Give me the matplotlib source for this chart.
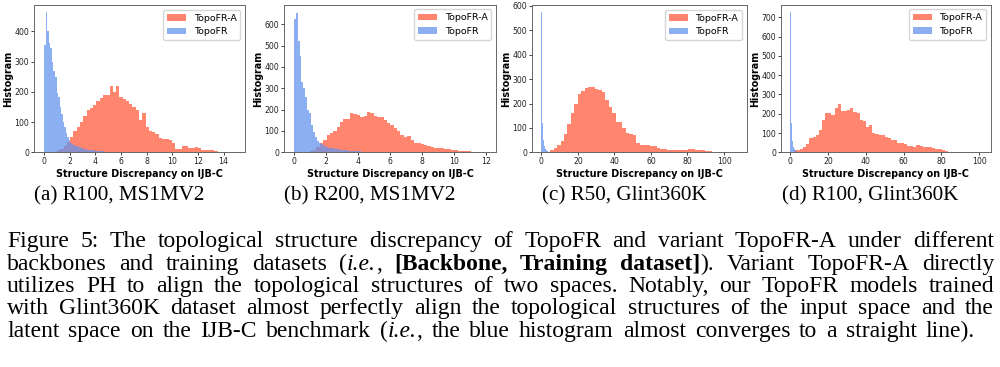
import numpy as np
import matplotlib.pyplot as plt

# -------------------------------
# Histogram counts
# (50 equal bins per series unless noted)
# -------------------------------
A_RED_RANGE = (1.0, 13.8)
A_RED = [8, 12, 20, 35, 50, 70, 85, 100, 120, 140, 148, 155, 168, 178, 190, 188,
         218, 200, 218, 184, 175, 170, 160, 150, 140, 108, 131, 82, 72, 66, 60, 48,
         45, 44, 40, 32, 12, 10, 20, 22, 15, 13, 18, 14, 8, 7, 8, 6, 4, 2]
A_BLUE_RANGE = (0.0, 6.0)
A_BLUE = [355, 465, 400, 360, 345, 300, 270, 250, 195, 182, 150, 125, 100, 85, 65, 50,
          40, 32, 28, 25, 22, 20, 18, 16, 14, 12, 12, 10, 9, 8, 8, 7,
          6, 5, 5, 4, 4, 3, 3, 2, 2, 2, 1, 1, 1, 1, 1, 0, 0, 1]

B_RED_RANGE = (1.0, 11.5)
B_RED = [5, 10, 25, 45, 60, 80, 90, 100, 120, 143, 155, 158, 183, 180, 175, 164,
         168, 190, 183, 170, 166, 164, 152, 136, 128, 112, 100, 81, 73, 76, 58, 45,
         42, 40, 34, 30, 26, 20, 18, 18, 17, 16, 12, 11, 8, 7, 5, 4, 2, 1]
B_BLUE_RANGE = (0.0, 6.0)
B_BLUE = [625, 655, 520, 450, 330, 300, 260, 200, 185, 130, 95, 70, 55, 45, 38, 32,
          28, 25, 22, 20, 18, 16, 15, 14, 12, 11, 10, 9, 8, 7, 6, 6,
          5, 4, 4, 3, 3, 3, 2, 2, 2, 2, 1, 1, 1, 1, 1, 1, 0, 1]

C_RED_RANGE = (3.0, 97.0)
C_RED = [3, 8, 18, 30, 45, 75, 115, 160, 200, 240, 250, 262, 266, 268, 258, 256,
         248, 215, 185, 160, 124, 126, 100, 80, 74, 70, 40, 30, 28, 28, 26, 24,
         18, 14, 12, 10, 9, 8, 8, 9, 10, 14, 12, 9, 8, 9, 6, 4, 2, 1]
C_BLUE_RANGE = (0.0, 6.0)  # 12 bins
C_BLUE = [575, 120, 50, 25, 14, 8, 5, 3, 2, 1, 1, 1]

D_RED_RANGE = (2.0, 85.0)
D_RED = [10, 12, 15, 28, 45, 75, 80, 92, 115, 168, 206, 202, 194, 228, 249, 216,
         214, 220, 228, 211, 202, 165, 160, 133, 142, 100, 96, 90, 88, 78, 76, 64,
         62, 50, 47, 45, 35, 33, 29, 36, 35, 30, 28, 25, 24, 18, 16, 12, 9, 4]
D_BLUE_RANGE = (0.0, 6.0)  # 12 bins
D_BLUE = [728, 150, 60, 30, 16, 9, 5, 3, 2, 1, 1, 1]

SUBCAPTIONS = ["(a) R100, MS1MV2", "(b) R200, MS1MV2",
               "(c) R50, Glint360K", "(d) R100, Glint360K"]

# caption lines: (text, style) with n = normal, i = italic, b = bold
CAPTION = [
    [("Figure 5: The topological structure discrepancy of TopoFR and variant TopoFR-A under different", "n")],
    [("backbones and training datasets (", "n"), ("i.e.", "i"), (", ", "n"),
     ("[Backbone, Training dataset]", "b"), ("). Variant TopoFR-A directly", "n")],
    [("utilizes PH to align the topological structures of two spaces. Notably, our TopoFR models trained", "n")],
    [("with Glint360K dataset almost perfectly align the topological structures of the input space and the", "n")],
    [("latent space on the IJB-C benchmark (", "n"), ("i.e.", "i"),
     (", the blue histogram almost converges to a straight line).", "n")],
]

# -------------------------------
# Layout (pixels on a 1000x367 canvas)
# -------------------------------
W, H = 1000, 367
AX_BOXES = [(34, 5, 245, 152.3), (284, 4.7, 496, 152.3),
            (532, 5, 746.7, 152.3), (780.7, 4.7, 990.7, 152.3)]
XLIMS = [(-0.8, 15.67), (-0.61, 12.64), (-5.1, 112.4), (-4.9, 106.0)]
YLIMS = [(0, 487), (0, 692), (0, 604), (0, 765)]
XTICKS = [np.arange(0, 15, 2), np.arange(0, 13, 2), np.arange(0, 101, 20), np.arange(0, 101, 20)]
YTICKS = [np.arange(0, 401, 100), np.arange(0, 601, 100), np.arange(0, 601, 100), np.arange(0, 701, 100)]
SUB_CENTERS = [119, 370, 624, 870]
SUB_BASELINE = 200.5
CAP_BASELINES = [247.3, 269.7, 292.0, 314.3, 336.7]
CAP_LEFT = 7
CAP_RIGHTS = [994, 994, 994, 994, 975]

RED = "tomato"
BLUE = "cornflowerblue"
SERIF = "Liberation Serif"


def draw_panel(ax, red, red_range, blue, blue_range, k):
    red_edges = np.linspace(red_range[0], red_range[1], len(red) + 1)
    blue_edges = np.linspace(blue_range[0], blue_range[1], len(blue) + 1)
    ax.hist(red_edges[:-1], bins=red_edges, weights=red, color=RED, alpha=0.78, label="TopoFR-A")
    ax.hist(blue_edges[:-1], bins=blue_edges, weights=blue, color=BLUE, alpha=0.75, label="TopoFR")

    ax.set_xlim(*XLIMS[k])
    ax.set_ylim(*YLIMS[k])
    ax.set_xticks(XTICKS[k])
    ax.set_yticks(YTICKS[k])
    ax.tick_params(labelsize=5.6, length=2.4, width=0.6, pad=1.0, colors="#222222")
    for s in ax.spines.values():
        s.set_linewidth(0.7)
        s.set_color("#666666")

    ax.set_xlabel("Structure Discrepancy on IJB-C", fontsize=6.9, fontweight="bold", labelpad=2)
    ax.set_ylabel("Histogram", fontsize=6.9, fontweight="bold", labelpad=1)
    ax.legend(loc="upper right", fontsize=6.8)


def split_words(segments):
    words = [[]]
    for text, style in segments:
        parts = text.split(" ")
        for j, part in enumerate(parts):
            if j > 0:
                words.append([])
            if part:
                words[-1].append((part, style))
    return [w for w in words if w]


def place_line(fig, segments, y_px, x_left, x_right, size):
    # spread the words so the line fills x_left..x_right, like the justified caption
    renderer = fig.canvas.get_renderer()
    words = split_words(segments)
    items, total = [], 0.0
    for word in words:
        pieces = []
        for text, style in word:
            t = fig.text(0, 1 - y_px / H, text, fontsize=size, family=SERIF, va="baseline",
                         fontweight="bold" if style == "b" else "normal",
                         fontstyle="italic" if style == "i" else "normal")
            wdt = t.get_window_extent(renderer).width
            pieces.append((t, wdt))
            total += wdt
        items.append(pieces)
    gap = (x_right - x_left - total) / (len(words) - 1)
    x = x_left
    for pieces in items:
        for t, wdt in pieces:
            t.set_x(x / W)
            x += wdt
        x += gap


# -------------------------------
# Figure
# -------------------------------
fig = plt.figure(figsize=(W / 100, H / 100), dpi=100)

series = [(A_RED, A_RED_RANGE, A_BLUE, A_BLUE_RANGE),
          (B_RED, B_RED_RANGE, B_BLUE, B_BLUE_RANGE),
          (C_RED, C_RED_RANGE, C_BLUE, C_BLUE_RANGE),
          (D_RED, D_RED_RANGE, D_BLUE, D_BLUE_RANGE)]

for k, (l, t, r, b) in enumerate(AX_BOXES):
    ax = fig.add_axes([l / W, 1 - b / H, (r - l) / W, (b - t) / H])
    draw_panel(ax, *series[k], k)
    fig.text(SUB_CENTERS[k] / W, 1 - SUB_BASELINE / H, SUBCAPTIONS[k], fontsize=15.2,
             family=SERIF, ha="center", va="baseline")

for i, line in enumerate(CAPTION):
    place_line(fig, line, CAP_BASELINES[i], CAP_LEFT, CAP_RIGHTS[i], 17)

fig.savefig("out.png", dpi=100)
plt.close(fig)
